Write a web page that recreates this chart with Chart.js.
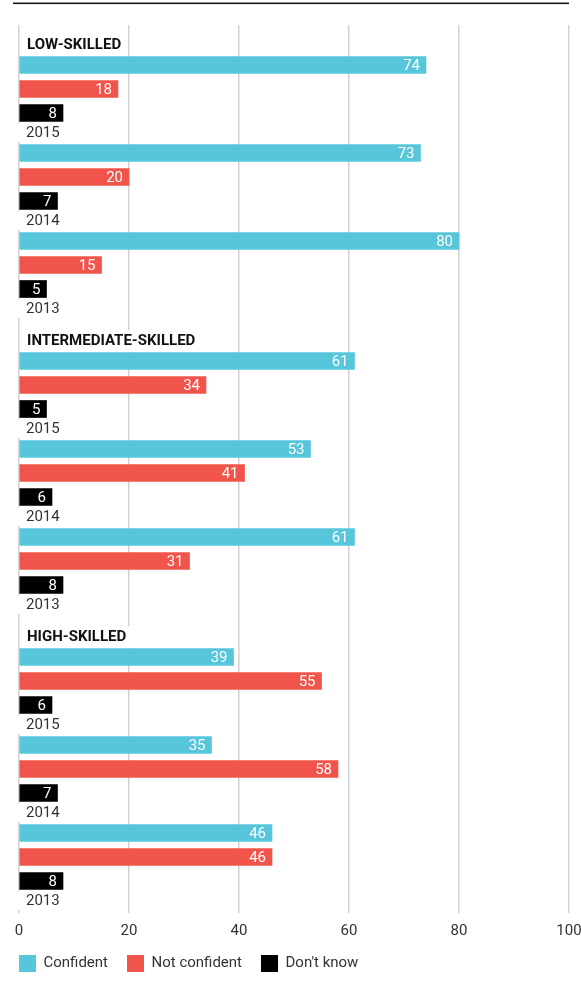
<!DOCTYPE html>
<html><head><meta charset="utf-8">
<script src="https://cdn.jsdelivr.net/npm/chart.js@4/dist/chart.umd.min.js"></script>
<style>html,body{margin:0;padding:0;background:#fff}#wrap{width:581px;height:996px;position:relative}</style>
</head><body><div id="wrap"><canvas id="c"></canvas></div>
<script>
const groups = ['LOW-SKILLED', 'INTERMEDIATE-SKILLED', 'HIGH-SKILLED'];
const years = ['2015', '2014', '2013'];
const seriesNames = ['Confident', 'Not confident', "Don't know"];
const confident = [74, 73, 80, 61, 53, 61, 39, 35, 46];
const notConfident = [18, 20, 15, 34, 41, 31, 55, 58, 46];
const dontKnow = [8, 7, 5, 5, 6, 8, 6, 7, 8];
const xTicks = [0, 20, 40, 60, 80, 100];

// build category rows (spacer rows keep the vertical rhythm)
const rowLabels = [], cData = [], nData = [], dData = [], rowInfo = [];
function pushRow(c, n, d, info) {
  rowLabels.push('r' + rowLabels.length);
  cData.push(c); nData.push(n); dData.push(d); rowInfo.push(info || null);
}
function spacer(k) { for (let i = 0; i < k; i++) pushRow(null, null, null); }
spacer(5);
groups.forEach((g, gi) => {
  years.forEach((y, yi) => {
    const i = gi * years.length + yi;
    pushRow(confident[i], null, null, yi === 0 ? { heading: g } : null);
    spacer(2);
    pushRow(null, notConfident[i], null);
    spacer(2);
    pushRow(null, null, dontKnow[i], { year: y });
    spacer(4);
  });
  if (gi < groups.length - 1) spacer(4);
});

const FONT = 'Roboto, "Open Sans", sans-serif';
Chart.defaults.font.family = FONT;

const topLine = {
  id: 'topLine',
  beforeDraw(chart) {
    const ctx = chart.ctx;
    ctx.save();
    ctx.fillStyle = '#1a1a1a';
    ctx.fillRect(13, 2.5, 556, 1.6);
    ctx.restore();
  }
};

const rowText = {
  id: 'rowText',
  beforeDatasetsDraw(chart) {
    const ctx = chart.ctx;
    ctx.save();
    ctx.textBaseline = 'middle';
    ctx.textAlign = 'left';
    rowInfo.forEach((info, idx) => {
      if (!info) return;
      if (info.heading) {
        const bar = chart.getDatasetMeta(0).data[idx];
        const y = bar.y - 21;
        ctx.font = 'bold 15px ' + FONT;
        const w = ctx.measureText(info.heading).width;
        ctx.fillStyle = '#fff';
        ctx.fillRect(21, y - 10, w + 10, 22);
        ctx.fillStyle = '#111';
        ctx.fillText(info.heading, 27, y + 1);
      }
      if (info.year) {
        const bar = chart.getDatasetMeta(2).data[idx];
        const y = bar.y + 19;
        ctx.font = '15px ' + FONT;
        const w = ctx.measureText(info.year).width;
        ctx.fillStyle = '#fff';
        ctx.fillRect(18, y - 9, w + 12, 19);
        ctx.fillStyle = '#333';
        ctx.fillText(info.year, 26, y + 1);
      }
    });
    ctx.restore();
  }
};

const valueLabels = {
  id: 'valueLabels',
  afterDatasetsDraw(chart) {
    const ctx = chart.ctx;
    ctx.save();
    ctx.font = '15px ' + FONT;
    ctx.fillStyle = '#fff';
    ctx.textAlign = 'right';
    ctx.textBaseline = 'middle';
    chart.data.datasets.forEach((ds, di) => {
      chart.getDatasetMeta(di).data.forEach((bar, idx) => {
        const v = ds.data[idx];
        if (v == null) return;
        ctx.fillText(String(v), bar.x - 6, bar.y + 1);
      });
    });
    ctx.restore();
  }
};

const colors = ['#57c6da', '#f1544a', '#000000'];
const common = { grouped: false, barThickness: 17, borderWidth: 0 };

new Chart(document.getElementById('c'), {
  type: 'bar',
  data: {
    labels: rowLabels,
    datasets: [
      Object.assign({ label: seriesNames[0], data: cData, backgroundColor: colors[0] }, common),
      Object.assign({ label: seriesNames[1], data: nData, backgroundColor: colors[1] }, common),
      Object.assign({ label: seriesNames[2], data: dData, backgroundColor: colors[2] }, common)
    ]
  },
  options: {
    indexAxis: 'y',
    responsive: true,
    maintainAspectRatio: false,
    animation: false,
    devicePixelRatio: 1,
    layout: { padding: { top: 25, right: 12, left: 0, bottom: 14 } },
    scales: {
      x: {
        type: 'linear', min: 0, max: 100,
        afterBuildTicks: s => { s.ticks = xTicks.map(v => ({ value: v })); },
        afterFit: s => { s.height = 23; s.paddingLeft = 0; s.paddingRight = 0; },
        ticks: { font: { size: 15 }, color: '#333', padding: 9 },
        grid: { color: '#d2d2d2', lineWidth: 1.5, drawTicks: false },
        border: { display: false }
      },
      y: {
        type: 'category', offset: false,
        afterFit: s => { s.width = 19; },
        ticks: { display: false },
        grid: { display: false },
        border: { display: false }
      }
    },
    plugins: {
      legend: {
        position: 'bottom', align: 'start',
        labels: { boxWidth: 17, boxHeight: 17, padding: 19, font: { size: 15 }, color: '#333' }
      },
      tooltip: { enabled: false }
    }
  },
  plugins: [topLine, rowText, valueLabels]
});
</script></body></html>
